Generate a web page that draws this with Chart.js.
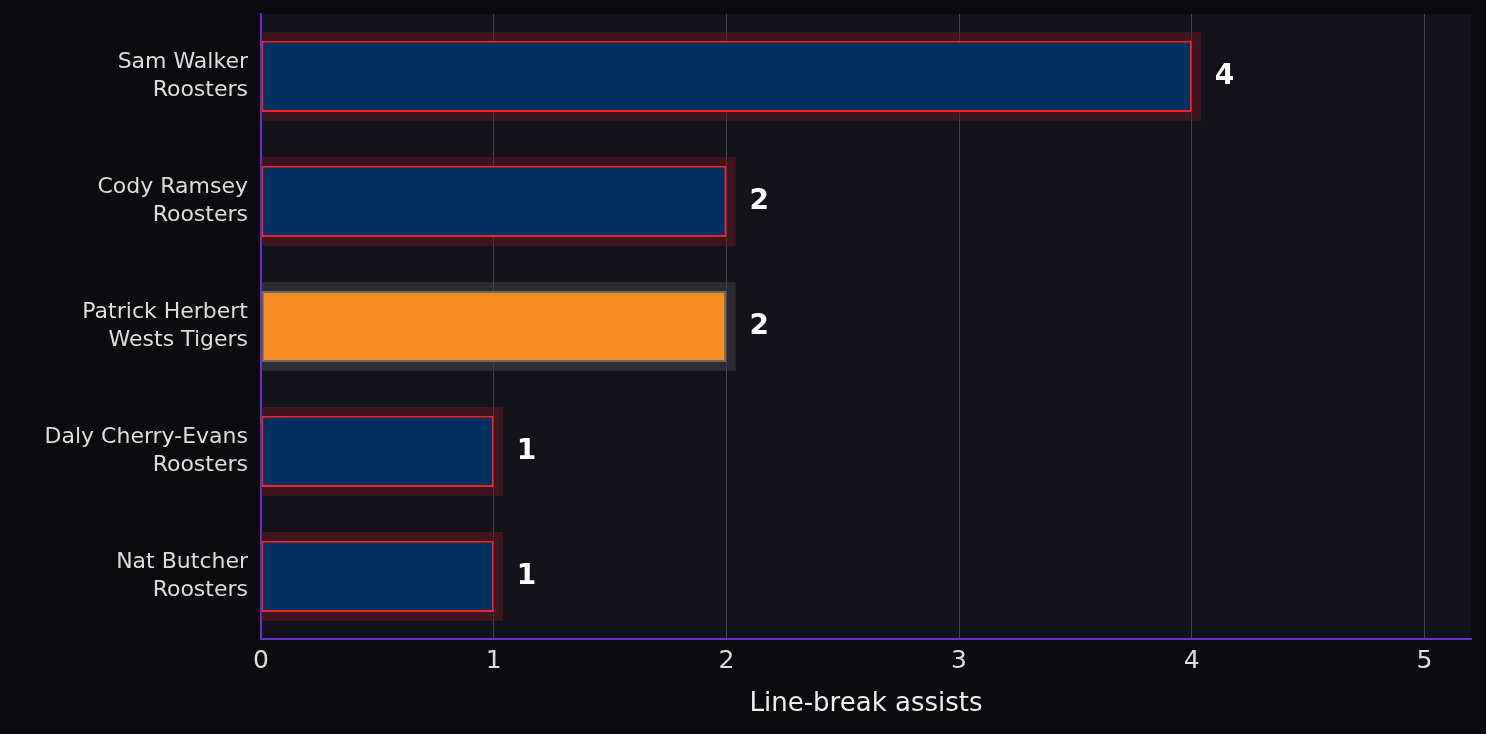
<!DOCTYPE html>
<html>
<head>
<meta charset="utf-8">
<script src="https://cdn.jsdelivr.net/npm/chart.js@4"></script>
<style>
  html, body { margin: 0; padding: 0; background: #0b0b0f; }
  #wrap { width: 1486px; height: 734px; }
</style>
</head>
<body>
<div id="wrap"><canvas id="c"></canvas></div>
<script>
const players = [['Sam Walker', 'Roosters'], ['Cody Ramsey', 'Roosters'], ['Patrick Herbert', 'Wests Tigers'], ['Daly Cherry-Evans', 'Roosters'], ['Nat Butcher', 'Roosters']];
const assists = [4, 2, 2, 1, 1];
const highlight = [false, false, true, false, false];
const xTicks = [0, 1, 2, 3, 4, 5];

// plot area background + value labels
const extras = {
    id: 'extras',
    beforeDraw(chart) {
        const { ctx, chartArea: a } = chart;
        ctx.save();
        ctx.fillStyle = '#12131a';
        ctx.fillRect(a.left, a.top, a.right - a.left, a.bottom - a.top);
        ctx.restore();
    },
    afterDatasetsDraw(chart) {
        const { ctx } = chart;
        const meta = chart.getDatasetMeta(1);
        ctx.save();
        ctx.fillStyle = '#ffffff';
        ctx.font = 'bold 28px "DejaVu Sans"';
        ctx.textBaseline = 'middle';
        meta.data.forEach((bar, i) => {
            ctx.fillText(String(assists[i]), bar.x + 23, bar.y);
        });
        ctx.restore();
    }
};

new Chart(document.getElementById('c'), {
    type: 'bar',
    data: {
        labels: players,
        datasets: [
            {
                // glow behind each bar
                data: assists.map(v => v + 0.04),
                backgroundColor: highlight.map(h => h ? 'rgba(60,60,66,0.6)' : 'rgba(110,22,30,0.5)'),
                borderWidth: 0,
                barPercentage: 0.71,
                categoryPercentage: 1,
                grouped: false,
                order: 2
            },
            {
                data: assists,
                backgroundColor: highlight.map(h => h ? '#f58d22' : '#003060'),
                borderColor: highlight.map(h => h ? '#6b6b6b' : '#e8262e'),
                borderWidth: 2,
                borderSkipped: false,
                barPercentage: 0.57,
                categoryPercentage: 1,
                grouped: false,
                order: 1
            }
        ]
    },
    options: {
        indexAxis: 'y',
        responsive: true,
        maintainAspectRatio: false,
        animation: false,
        layout: { padding: { top: 14, right: 15, left: 10, bottom: 10 } },
        plugins: { legend: { display: false }, tooltip: { enabled: false } },
        scales: {
            x: {
                min: 0, max: 5.2,
                afterBuildTicks: (s) => { s.ticks = xTicks.map(v => ({ value: v })); },
                afterFit: (s) => { s.paddingLeft = 0; s.paddingRight = 0; },
                ticks: { color: '#dddddd', font: { family: 'DejaVu Sans', size: 25 }, padding: 8 },
                grid: { color: 'rgba(255,255,255,0.22)', drawTicks: false, lineWidth: 1 },
                border: { color: '#6a2fd0', width: 2 },
                title: { display: true, text: 'Line-break assists', color: '#eeeeee', font: { family: 'DejaVu Sans', size: 26 }, padding: { top: 4 } }
            },
            y: {
                afterFit: (s) => { s.width = 251; s.paddingTop = 0; s.paddingBottom = 0; },
                ticks: { color: '#dddddd', font: { family: 'DejaVu Sans', size: 22, lineHeight: 1.25 }, padding: 8 },
                grid: { display: false, drawTicks: true, tickLength: 5, tickColor: '#dddddd' },
                border: { color: '#6a2fd0', width: 2 }
            }
        }
    },
    plugins: [extras]
});
</script>
</body>
</html>
